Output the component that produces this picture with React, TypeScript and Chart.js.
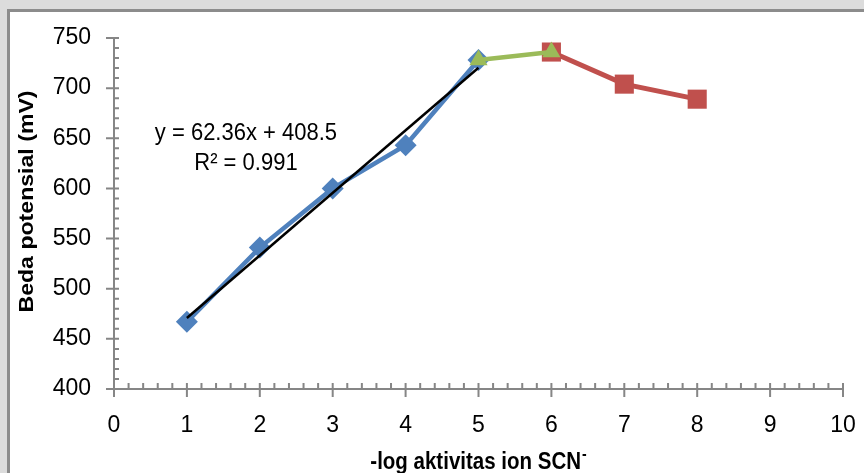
import React, { useEffect, useRef } from "react";
import { Chart, registerables } from "chart.js";

Chart.register(...registerables);

// -log activity of SCN- and measured potential difference (mV)
const linearX = [1, 2, 3, 4, 5];
const linearMv = [467, 541, 600, 643, 728];
const transitionX = [5, 6];
const transitionMv = [728, 736];
const saturationX = [6, 7, 8];
const saturationMv = [736, 704, 689];

// linear fit over the Nernstian range
const trendSlope = 62.36;
const trendIntercept = 408.5;
const trendR2 = 0.991;
const trendFrom = 1;
const trendTo = 5;

// axis ranges
const xMin = 0;
const xMax = 10;
const xStep = 1;
const yMin = 400;
const yMax = 750;
const yStep = 50;

const FONT = "'Liberation Sans', Arial, sans-serif";
const AXIS_COLOR = "#868686";
const BLUE = "#4F81BD";
const GREEN = "#9BBB59";
const RED = "#C0504D";

const pts = (xs: number[], ys: number[]) => xs.map((x, i) => ({ x, y: ys[i] }));

// Excel-style axis lines with crossing major ticks and inner minor ticks
const axisTicks = {
  id: "axisTicks",
  beforeDatasetsDraw(chart: any) {
    const { ctx, chartArea, scales } = chart;
    const xs = scales.x;
    const ys = scales.y;
    const L = chartArea.left;
    const B = chartArea.bottom;
    ctx.save();
    ctx.strokeStyle = AXIS_COLOR;
    ctx.lineWidth = 2;
    ctx.beginPath();
    ctx.moveTo(L, chartArea.top - 1);
    ctx.lineTo(L, B);
    ctx.lineTo(chartArea.right + 1, B);
    const xMinorCount = Math.round((xMax - xMin) / xStep) * 5;
    for (let i = 0; i <= xMinorCount; i++) {
      const v = xMin + (i * xStep) / 5;
      const px = xs.getPixelForValue(v);
      const major = i % 5 === 0;
      ctx.moveTo(px, B - 6);
      ctx.lineTo(px, B + (major ? 8 : 0));
    }
    const yMinorCount = Math.round((yMax - yMin) / yStep) * 5;
    for (let i = 0; i <= yMinorCount; i++) {
      const v = yMin + (i * yStep) / 5;
      const py = ys.getPixelForValue(v);
      const major = i % 5 === 0;
      ctx.moveTo(L - (major ? 8 : 0), py);
      ctx.lineTo(L + 5, py);
    }
    ctx.stroke();
    ctx.restore();
  },
};

// axis titles and the trendline equation
const textLayer = {
  id: "textLayer",
  afterDraw(chart: any) {
    const { ctx, chartArea, scales } = chart;
    ctx.save();
    ctx.fillStyle = "#000";

    // y title
    ctx.save();
    ctx.translate(27, (chartArea.top + chartArea.bottom) / 2 - 12);
    ctx.rotate(-Math.PI / 2);
    ctx.scale(1.1, 1);
    ctx.font = `bold 21px ${FONT}`;
    ctx.textAlign = "center";
    ctx.textBaseline = "middle";
    ctx.fillText("Beda potensial (mV)", 0, 0);
    ctx.restore();

    // x title with superscript charge
    ctx.save();
    const main = "-log aktivitas ion SCN";
    const sup = "-";
    ctx.font = `bold 20.5px ${FONT}`;
    const wMain = ctx.measureText(main).width;
    ctx.font = `bold 14px ${FONT}`;
    const wSup = ctx.measureText(sup).width;
    const cx = (chartArea.left + chartArea.right) / 2;
    ctx.translate(cx - (wMain + wSup + 1) / 2, 469);
    ctx.scale(1, 1.15);
    ctx.textAlign = "left";
    ctx.textBaseline = "alphabetic";
    ctx.font = `bold 20.5px ${FONT}`;
    ctx.fillText(main, 0, 0);
    ctx.font = `bold 14px ${FONT}`;
    ctx.fillText(sup, wMain + 1, -9);
    ctx.restore();

    // trendline equation
    const ex = scales.x.getPixelForValue(1.81);
    const ey1 = scales.y.getPixelForValue(655);
    const ey2 = scales.y.getPixelForValue(625);
    const sign = trendIntercept >= 0 ? "+" : "-";
    ctx.font = `22px ${FONT}`;
    ctx.textAlign = "center";
    ctx.textBaseline = "middle";
    ctx.save();
    ctx.translate(ex, ey1);
    ctx.scale(1, 1.08);
    ctx.fillText(`y = ${trendSlope}x ${sign} ${Math.abs(trendIntercept)}`, 0, 0);
    ctx.restore();
    ctx.save();
    ctx.translate(ex, ey2);
    ctx.scale(1, 1.08);
    ctx.fillText(`R² = ${trendR2}`, 0, 0);
    ctx.restore();
    ctx.restore();
  },
};

export default function App() {
  const ref = useRef<HTMLCanvasElement | null>(null);

  useEffect(() => {
    if (!ref.current) return;
    const trend = [trendFrom, trendTo].map((x) => ({ x, y: trendSlope * x + trendIntercept }));
    const chart = new Chart(ref.current, {
      type: "line",
      data: {
        datasets: [
          {
            label: "Linear",
            data: trend,
            borderColor: "#000",
            borderWidth: 2.5,
            pointRadius: 0,
            order: 0,
          },
          {
            label: "Transisi",
            data: pts(transitionX, transitionMv),
            borderColor: GREEN,
            backgroundColor: GREEN,
            borderWidth: 4.5,
            pointStyle: "triangle",
            pointRadius: 10.5,
            pointBorderWidth: 0,
            order: 1,
          },
          {
            label: "Jenuh",
            data: pts(saturationX, saturationMv),
            borderColor: RED,
            backgroundColor: RED,
            borderWidth: 5,
            pointStyle: "rect",
            pointRadius: 13.5,
            pointBorderWidth: 0,
            order: 2,
          },
          {
            label: "Data",
            data: pts(linearX, linearMv),
            borderColor: BLUE,
            backgroundColor: BLUE,
            borderWidth: 4.5,
            pointStyle: "rectRot",
            pointRadius: 11,
            pointBorderWidth: 0,
            order: 3,
          },
        ],
      },
      options: {
        responsive: false,
        devicePixelRatio: 1,
        animation: false,
        layout: { padding: { top: 38, right: 21, left: 0, bottom: 0 } },
        plugins: {
          legend: { display: false },
          tooltip: { enabled: false },
          title: { display: false },
        },
        scales: {
          x: {
            type: "linear",
            min: xMin,
            max: xMax,
            ticks: {
              stepSize: xStep,
              font: { family: FONT, size: 23 },
              color: "#000",
              padding: 23,
              maxRotation: 0,
              autoSkip: false,
            },
            grid: { display: false, drawTicks: false },
            border: { display: false },
            afterFit: (s: any) => {
              s.height = 84;
              s.paddingLeft = 0;
              s.paddingRight = 0;
            },
          },
          y: {
            type: "linear",
            min: yMin,
            max: yMax,
            ticks: {
              stepSize: yStep,
              font: { family: FONT, size: 23 },
              color: "#000",
              padding: 23,
            },
            grid: { display: false, drawTicks: false },
            border: { display: false },
            afterFit: (s: any) => {
              s.width = 114;
              s.paddingTop = 0;
              s.paddingBottom = 0;
            },
          },
        },
      },
      plugins: [axisTicks, textLayer],
    } as any);
    return () => chart.destroy();
  }, []);

  return (
    <div
      style={{
        position: "fixed",
        left: 0,
        top: 0,
        width: "100vw",
        height: "100vh",
        background: "#dcdcdc",
        overflow: "hidden",
      }}
    >
      <div
        style={{
          position: "absolute",
          left: 7,
          top: 9,
          width: 1000,
          height: 1000,
          background: "#fff",
          borderTop: "3px solid #8c8c8c",
          borderLeft: "3px solid #8c8c8c",
        }}
      />
      <canvas
        ref={ref}
        width={864}
        height={473}
        style={{ position: "absolute", left: 0, top: 0, width: 864, height: 473 }}
      />
    </div>
  );
}
